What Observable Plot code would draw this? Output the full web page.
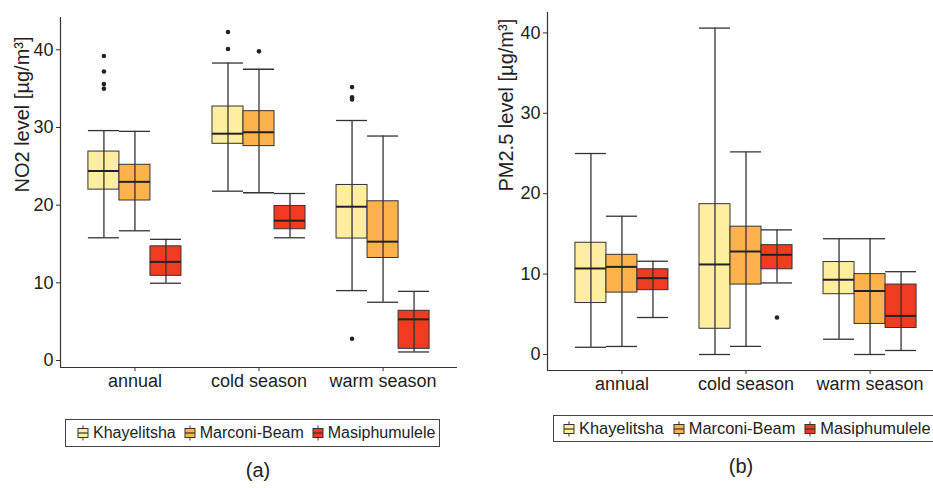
<!DOCTYPE html>
<html>
<head>
<meta charset="utf-8">
<script src="https://cdn.jsdelivr.net/npm/d3@7"></script>
<script src="https://cdn.jsdelivr.net/npm/@observablehq/plot@0.6"></script>
<style>
  html, body { margin: 0; padding: 0; background: #fff; }
  #root { position: relative; width: 933px; height: 488px; overflow: hidden; background: #fff;
          font-family: "Liberation Sans", Arial, sans-serif; color: #222; }
  .panel { position: absolute; top: 0; }
  .legend { position: absolute; box-sizing: border-box; border: 1px solid #444; display: flex;
            align-items: center; font-size: 16px; white-space: nowrap; background: #fff; }
  .item { display: flex; align-items: center; }
  .item svg { margin-right: 4px; }
  .cap { position: absolute; font-size: 20px; transform: translate(-50%, -50%); }
</style>
</head>
<body>
<div id="root"></div>
<script>
// ---------- data ----------
const categories = ["annual", "cold season", "warm season"];
const sites = ["Khayelitsha", "Marconi-Beam", "Masiphumulele"];
const colors = ["#FFEDA0", "#FEB24C", "#F03B20"];

// NO2 (panel a) — order: annual(K,M,Ma), cold(K,M,Ma), warm(K,M,Ma)
const no2Min    = [15.8, 16.7,  9.95, 21.8, 21.6, 15.8,  9.0,  7.5, 1.1];
const no2Q1     = [22.0, 20.6, 10.9, 27.9, 27.6, 16.9, 15.7, 13.2, 1.5];
const no2Median = [24.4, 23.0, 12.7, 29.2, 29.4, 18.0, 19.8, 15.3, 5.3];
const no2Q3     = [26.9, 25.2, 14.7, 32.7, 32.1, 19.9, 22.6, 20.5, 6.4];
const no2Max    = [29.6, 29.5, 15.6, 38.3, 37.5, 21.5, 30.9, 28.9, 8.9];
// outliers: [category index, site index, value]
const no2Outliers = [
  [0, 0, 39.2], [0, 0, 37.2], [0, 0, 35.6], [0, 0, 35.0],
  [1, 0, 42.3], [1, 0, 40.1], [1, 1, 39.8],
  [2, 0, 35.2], [2, 0, 33.9], [2, 0, 33.6], [2, 0, 2.8]
];

// PM2.5 (panel b)
const pmMin    = [0.9, 1.0, 4.6,  0.0,  1.0,  8.9,  1.9,  0.0, 0.5];
const pmQ1     = [6.4, 7.7, 8.0,  3.2,  8.7, 10.6,  7.5,  3.8, 3.3];
const pmMedian = [10.7, 10.9, 9.5, 11.2, 12.8, 12.4, 9.3, 7.9, 4.8];
const pmQ3     = [13.9, 12.4, 10.6, 18.7, 15.9, 13.6, 11.5, 10.0, 8.7];
const pmMax    = [25.0, 17.2, 11.6, 40.6, 25.2, 15.5, 14.4, 14.4, 10.3];
const pmOutliers = [[1, 2, 4.6]];

const no2Ticks = [0, 10, 20, 30, 40];
const pmTicks = [0, 10, 20, 30, 40];

// ---------- helpers ----------
const BOXW = 0.25;
function buildRows(mn, q1, md, q3, mx) {
  const rows = [];
  categories.forEach((c, ci) => sites.forEach((s, si) => {
    const k = ci * sites.length + si;
    rows.push({cat: c, site: s, pos: ci + 1 + (si - 1) * BOXW,
               min: mn[k], q1: q1[k], median: md[k], q3: q3[k], max: mx[k]});
  }));
  return rows;
}
function buildOut(list) {
  return list.map(([ci, si, v]) => ({site: sites[si], pos: ci + 1 + (si - 1) * BOXW, value: v}));
}

function boxPanel({rows, outliers, ticks, yDomain, width, height, mL, mR, mT, mB, label, labelDx}) {
  const x1 = d => d.pos - BOXW / 2, x2 = d => d.pos + BOXW / 2;
  const lineC = "#333";
  return Plot.plot({
    width, height, marginLeft: mL, marginRight: mR, marginTop: mT, marginBottom: mB,
    x: {domain: [0.4, 3.6], axis: null},
    y: {domain: yDomain, axis: null},
    color: {domain: sites, range: colors},
    style: {fontFamily: '"Liberation Sans", Arial, sans-serif', fontSize: "18px", color: "#222", background: "#fff"},
    marks: [
      Plot.axisY(ticks, {tickSize: 4, tickPadding: 3, fontSize: 18, label: null, stroke: lineC}),
      Plot.axisX([1, 2, 3], {tickSize: 4, tickPadding: 3, fontSize: 18, label: null, stroke: lineC,
                             tickFormat: d => categories[d - 1]}),
      Plot.ruleX([yDomain[0]], {x: () => 0.4, y1: yDomain[0], y2: yDomain[1], stroke: lineC, strokeWidth: 1.2}),
      Plot.ruleY([yDomain[0]], {stroke: lineC, strokeWidth: 1.2}),
      Plot.ruleX(rows, {x: "pos", y1: "min", y2: "max", stroke: lineC, strokeWidth: 1.3}),
      Plot.ruleY(rows, {x1, x2, y: "min", stroke: lineC, strokeWidth: 1.3}),
      Plot.ruleY(rows, {x1, x2, y: "max", stroke: lineC, strokeWidth: 1.3}),
      Plot.rect(rows, {x1, x2, y1: "q1", y2: "q3", fill: "site", stroke: lineC, strokeWidth: 1}),
      Plot.ruleX(rows, {x: "pos", y1: "q1", y2: "q3", stroke: lineC, strokeWidth: 1.3}),
      Plot.ruleY(rows, {x1, x2, y: "median", stroke: "#222", strokeWidth: 2}),
      Plot.dot(outliers, {x: "pos", y: "value", r: 2.3, fill: "#222", stroke: null}),
      Plot.text([label], {frameAnchor: "left", rotate: -90, dx: labelDx, fontSize: 20, fill: "#222"})
    ]
  });
}

// ---------- build ----------
const root = document.getElementById("root");

const plotA = boxPanel({
  rows: buildRows(no2Min, no2Q1, no2Median, no2Q3, no2Max),
  outliers: buildOut(no2Outliers), ticks: no2Ticks,
  yDomain: [-0.9, 44.16], width: 470, height: 400, mL: 60, mR: 13, mT: 17, mB: 33,
  label: "NO2 level [µg/m³]", labelDx: -38
});
plotA.classList.add("panel"); plotA.style.left = "0px";
root.appendChild(plotA);

const plotB = boxPanel({
  rows: buildRows(pmMin, pmQ1, pmMedian, pmQ3, pmMax),
  outliers: buildOut(pmOutliers), ticks: pmTicks,
  yDomain: [-1.99, 42.54], width: 476, height: 400, mL: 77, mR: 2, mT: 12, mB: 30,
  label: "PM2.5 level [µg/m³]", labelDx: -41
});
plotB.classList.add("panel"); plotB.style.left = "470px";
root.appendChild(plotB);

function glyph(color) {
  const ns = "http://www.w3.org/2000/svg";
  const s = document.createElementNS(ns, "svg");
  s.setAttribute("width", 12); s.setAttribute("height", 16);
  s.innerHTML = `<line x1="6" x2="6" y1="0.5" y2="15.5" stroke="#333" stroke-width="1"/>
    <rect x="1" y="3.5" width="10" height="9" fill="${color}" stroke="#333" stroke-width="1"/>
    <line x1="1" x2="11" y1="8" y2="8" stroke="#333" stroke-width="1.2"/>`;
  return s;
}
function legend(left, top, w, h, padL, gap, fs) {
  const L = document.createElement("div");
  L.className = "legend";
  Object.assign(L.style, {left: left + "px", top: top + "px", width: w + "px", height: h + "px",
                          paddingLeft: padL + "px", fontSize: fs + "px"});
  sites.forEach((s, i) => {
    const it = document.createElement("div");
    it.className = "item";
    it.style.marginRight = gap + "px";
    it.appendChild(glyph(colors[i]));
    const t = document.createElement("span");
    t.textContent = s;
    it.appendChild(t);
    L.appendChild(it);
  });
  root.appendChild(L);
}
legend(65, 419, 375, 28, 11, 8, 16);
legend(553, 415, 400, 27, 9, 9, 16.4);

function caption(txt, x, y) {
  const c = document.createElement("div");
  c.className = "cap";
  c.textContent = txt;
  c.style.left = x + "px"; c.style.top = y + "px";
  root.appendChild(c);
}
caption("(a)", 258, 470);
caption("(b)", 741, 466);
</script>
</body>
</html>
